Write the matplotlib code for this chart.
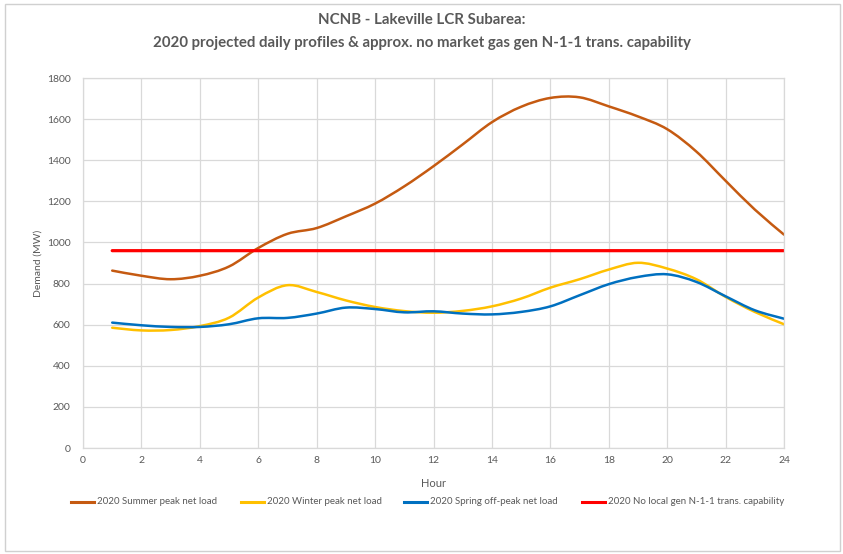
import matplotlib
matplotlib.use("Agg")
import matplotlib.pyplot as plt
from matplotlib.path import Path
from matplotlib.patches import PathPatch, Rectangle
from matplotlib.lines import Line2D
import numpy as np

hours = list(range(1, 25))
summer = [863, 838, 821, 838, 883, 973, 1042, 1070, 1127, 1189, 1273, 1371,
          1477, 1585, 1660, 1703, 1706, 1662, 1613, 1551, 1442, 1300, 1160, 1038]
winter = [585, 572, 574, 593, 634, 732, 792, 759, 718, 686, 666, 658,
          667, 689, 727, 780, 821, 868, 901, 873, 821, 735, 662, 602]
spring = [610, 597, 589, 589, 602, 631, 633, 654, 683, 676, 660, 665,
          654, 650, 662, 689, 743, 797, 832, 845, 808, 738, 670, 629]
capability = [960] * 24

labels = ["2020 Summer peak net load", "2020 Winter peak net load",
          "2020 Spring off-peak net load", "2020 No local gen N-1-1 trans. capability"]
colors = ["#C55A11", "#FFC000", "#0070C0", "#FF0000"]
widths = [1.8, 1.8, 1.8, 2.3]

FONT = ["Lato", "DejaVu Sans"]
TXT = "#595959"
W, H = 843, 554

fig = plt.figure(figsize=(8.43, 5.54), dpi=100)
fig.patch.set_facecolor("white")

# chart frame
fig.add_artist(Rectangle((5/W, 1-551/H), 835/W, 547/H, transform=fig.transFigure,
                         fill=False, edgecolor="#D0D0D0", linewidth=1.0))

ax = fig.add_axes([83/W, 1-448/H, (784-83)/W, (448-78)/H])


def smooth_path(x, y):
    pts = np.column_stack([x, y]).astype(float)
    n = len(pts)
    verts = [pts[0]]
    codes = [Path.MOVETO]
    for i in range(n - 1):
        p0 = pts[i - 1] if i > 0 else pts[i]
        p1 = pts[i]
        p2 = pts[i + 1]
        p3 = pts[i + 2] if i + 2 < n else pts[i + 1]
        c1 = p1 + (p2 - p0) / 6.0
        c2 = p2 - (p3 - p1) / 6.0
        verts += [c1, c2, p2]
        codes += [Path.CURVE4] * 3
    return Path(verts, codes)


for series, c, lw in zip([summer, winter, spring, capability], colors, widths):
    ax.add_patch(PathPatch(smooth_path(hours, series), facecolor="none",
                           edgecolor=c, linewidth=lw, capstyle="round", joinstyle="round"))

ax.set_xlim(0, 24)
ax.set_ylim(0, 1800)
ax.set_xticks(range(0, 25, 2))
ax.set_yticks(range(0, 1801, 200))
ax.grid(True, color="#D9D9D9", linewidth=0.9)
ax.set_axisbelow(True)
for s in ax.spines.values():
    s.set_color("#D9D9D9")
    s.set_linewidth(0.9)
ax.tick_params(length=0, colors=TXT, labelsize=7.5)
ax.tick_params(axis="y", pad=9)
ax.tick_params(axis="x", pad=6)
for lab in ax.get_xticklabels() + ax.get_yticklabels():
    lab.set_family(FONT)

ax.set_xlabel("Hour", color=TXT, fontsize=8, family=FONT)
ax.set_ylabel("Demand (MW)", color=TXT, fontsize=7.5, family=FONT)
ax.xaxis.set_label_coords(0.5, (448-478)/370)
ax.yaxis.set_label_coords((43-83)/701, 0.5)

fig.text(0.5, 1-20/H, "NCNB - Lakeville LCR Subarea:", ha="center", va="center",
         fontsize=10.8, fontweight="bold", color=TXT, family=FONT)
fig.text(0.5, 1-43/H, "2020 projected daily profiles & approx. no market gas gen N-1-1 trans. capability",
         ha="center", va="center", fontsize=10.8, fontweight="bold", color=TXT, family=FONT)

# legend
leg_y = 1-502/H
line_x = [71, 241, 404, 582]
for lx, lab, c in zip(line_x, labels, colors):
    fig.add_artist(Line2D([lx/W, (lx+23)/W], [leg_y, leg_y], transform=fig.transFigure,
                          color=c, linewidth=2.2))
    fig.text((lx+26)/W, leg_y, lab, ha="left", va="center", fontsize=7.0,
             color=TXT, family=FONT)

fig.savefig("out.png", dpi=100, facecolor="white")
